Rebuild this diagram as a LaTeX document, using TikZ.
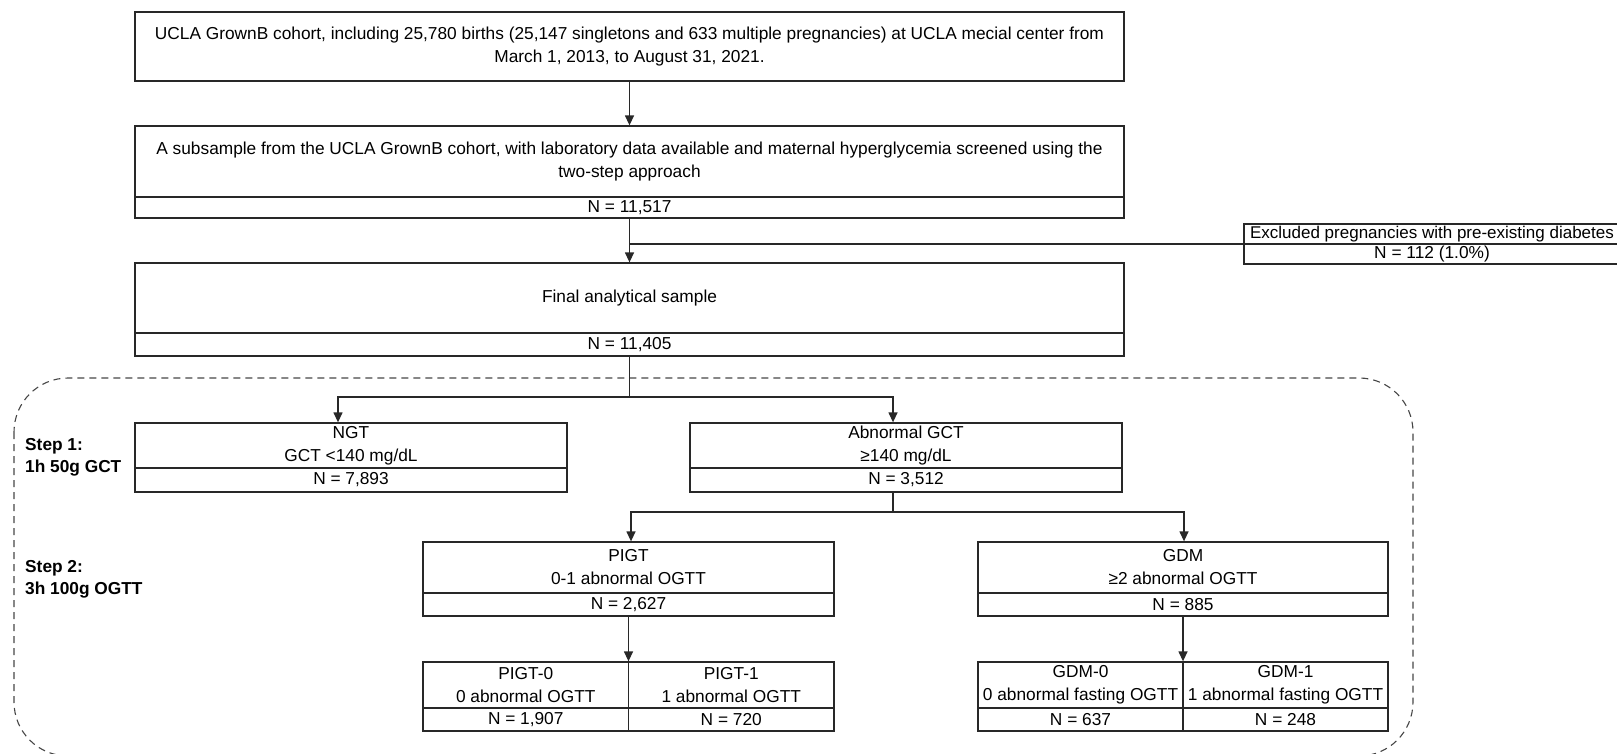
\documentclass[tikz,border=0pt]{standalone}
\usepackage{fontspec}
\setmainfont{Liberation Sans}
\usetikzlibrary{arrows.meta}
\definecolor{ink}{RGB}{40,40,40}
\definecolor{dashink}{RGB}{70,70,70}
\begin{document}
\begin{tikzpicture}[x=1pt,y=-1pt,
  cell/.style={draw=ink, line width=1.3pt, inner sep=0pt, align=center,
    font=\fontsize{17.3}{23}\selectfont},
  arr/.style={draw=ink, line width=1.3pt, -{Triangle[width=9pt,length=10pt]}},
  link/.style={draw=ink, line width=1.3pt},
  steplabel/.style={anchor=west, align=left, inner sep=0pt,
    font=\fontsize{17.3}{21.5}\selectfont\bfseries}]
\useasboundingbox (0,0) rectangle (1617,753);

% group frame around the two screening steps
\draw[dashink, line width=1.1pt, dash pattern=on 7pt off 5pt, rounded corners=54pt]
  (14,378) rectangle (1413,756);

% main column
\node[cell, minimum width=989pt, minimum height=69pt] (top) at (629.5,46.5)
  {UCLA GrownB cohort, including 25,780 births (25,147 singletons and 633 multiple pregnancies) at UCLA mecial center from\\March 1, 2013, to August 31, 2021.};
\node[cell, minimum width=989pt, minimum height=71pt] (subT) at (629.5,161.5)
  {A subsample from the UCLA GrownB cohort, with laboratory data available and maternal hyperglycemia screened using the\\two-step approach};
\node[cell, minimum width=989pt, minimum height=21pt] (subN) at (629.5,207.5) {N = 11,517};
\node[cell, minimum width=989pt, minimum height=70pt] (finT) at (629.5,298) {Final analytical sample};
\node[cell, minimum width=989pt, minimum height=23pt] (finN) at (629.5,344.5) {N = 11,405};

% exclusion box
\node[cell, minimum width=376pt, minimum height=20pt, font=\fontsize{17}{21}\selectfont] (excT) at (1432,234) {Excluded pregnancies with pre-existing diabetes};
\node[cell, minimum width=376pt, minimum height=20pt] (excN) at (1432,254) {N = 112 (1.0\%)};

% step 1
\node[cell, minimum width=432pt, minimum height=45pt] (ngtT) at (351,445.5) {NGT\\GCT <140 mg/dL};
\node[cell, minimum width=432pt, minimum height=24pt] (ngtN) at (351,480) {N = 7,893};
\node[cell, minimum width=432pt, minimum height=45pt] (abnT) at (906,445.5) {Abnormal GCT\\≥140 mg/dL};
\node[cell, minimum width=432pt, minimum height=24pt] (abnN) at (906,480) {N = 3,512};

% step 2
\node[cell, minimum width=411pt, minimum height=51pt] (pigtT) at (628.5,567.5) {PIGT\\0-1 abnormal OGTT};
\node[cell, minimum width=411pt, minimum height=23pt] (pigtN) at (628.5,604.5) {N = 2,627};
\node[cell, minimum width=410pt, minimum height=51pt] (gdmT) at (1183,567.5) {GDM\\≥2 abnormal OGTT};
\node[cell, minimum width=410pt, minimum height=23pt] (gdmN) at (1183,604.5) {N = 885};

% subgroups
\node[cell, minimum width=205.5pt, minimum height=46pt] (p0T) at (525.75,685) {PIGT-0\\0 abnormal OGTT};
\node[cell, minimum width=205.5pt, minimum height=23pt] (p0N) at (525.75,719.5) {N = 1,907};
\node[cell, minimum width=205.5pt, minimum height=46pt] (p1T) at (731.25,685) {PIGT-1\\1 abnormal OGTT};
\node[cell, minimum width=205.5pt, minimum height=23pt] (p1N) at (731.25,719.5) {N = 720};
\node[cell, minimum width=205pt, minimum height=46pt] (g0T) at (1080.5,685) {GDM-0\\0 abnormal fasting OGTT};
\node[cell, minimum width=205pt, minimum height=23pt] (g0N) at (1080.5,719.5) {N = 637};
\node[cell, minimum width=205pt, minimum height=46pt] (g1T) at (1285.5,685) {GDM-1\\1 abnormal fasting OGTT};
\node[cell, minimum width=205pt, minimum height=23pt] (g1N) at (1285.5,719.5) {N = 248};

% step labels
\node[steplabel] (s1) at (25,457.5) {Step 1:\\1h 50g GCT};
\node[steplabel] (s2) at (25,579.5) {Step 2:\\3h 100g OGTT};

% connectors
\draw[arr] (top.south) -- (subT.north);
\draw[arr] (subN.south) -- (finT.north);
\coordinate (jx) at (629.5,244);
\draw[link] (jx) -- (jx -| excT.west);

\coordinate (j1) at (629.5,397);
\draw[link] (finN.south) -- (j1);
\draw[arr] (j1) -| ([xshift=-13pt]ngtT.north);
\draw[arr] (j1) -| ([xshift=-13pt]abnT.north);

\coordinate (j2) at (893,512);
\draw[link] ([xshift=-13pt]abnN.south) -- (j2);
\draw[arr] (j2) -| ([xshift=2.5pt]pigtT.north);
\draw[arr] (j2) -| ([xshift=1pt]gdmT.north);

\draw[arr] (pigtN.south) -- (pigtN.south |- p0T.north);
\draw[arr] (gdmN.south) -- (gdmN.south |- g0T.north);
\end{tikzpicture}
\end{document}
